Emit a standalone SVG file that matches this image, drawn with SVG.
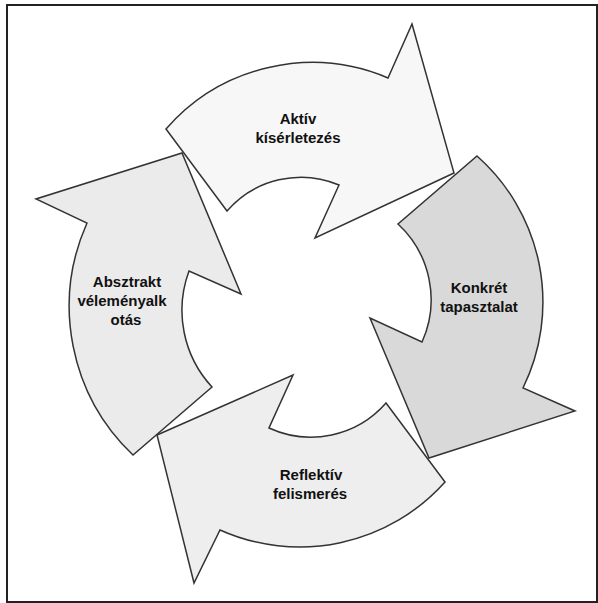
<svg xmlns="http://www.w3.org/2000/svg" width="598" height="603" viewBox="0 0 598 603">
  <style>
    .arrow { stroke: #333333; stroke-width: 1.5; stroke-linejoin: miter; }
    .lbl { font-family: "Liberation Sans", Arial, sans-serif; font-size: 15px; font-weight: bold; fill: #111111; text-anchor: middle; }
  </style>
  <rect x="0" y="0" width="598" height="603" fill="#ffffff"/>
  <rect x="7" y="5" width="590" height="597" fill="none" stroke="#222222" stroke-width="2"/>
  <g id="connectors"></g>
  <g id="node-aktiv">
    <path class="arrow" fill="#f7f7f7" d="M166,129 A194,194 0 0 1 388,78 L412,24 L454,173 L315,238 L339,185 A98,98 0 0 0 227,211 Z"/>
    <text class="lbl" x="298" y="124">Aktív</text>
    <text class="lbl" x="298" y="143">kísérletezés</text>
  </g>
  <g id="node-konkret">
    <path class="arrow" fill="#d9d9d9" d="M477,156 A195,195 0 0 1 523,388 L575,411 L429,458 L370,318 L422,342 A103,103 0 0 0 398,224 Z"/>
    <text class="lbl" x="479" y="293">Konkrét</text>
    <text class="lbl" x="479" y="312">tapasztalat</text>
  </g>
  <g id="node-reflektiv">
    <path class="arrow" fill="#eeeeee" d="M445,482 A195,195 0 0 1 220,530 L194,583 L157,435 L293,375 L269,428 A100,100 0 0 0 386,403 Z"/>
    <text class="lbl" x="311" y="480">Reflektív</text>
    <text class="lbl" x="310" y="499">felismerés</text>
  </g>
  <g id="node-absztrakt">
    <path class="arrow" fill="#ebebeb" d="M133,455 A205,205 0 0 1 87,223 L36,199 L182,153 L241,294 L189,271 A113,113 0 0 0 212,387 Z"/>
    <text class="lbl" x="127" y="287">Absztrakt</text>
    <text class="lbl" x="122" y="306">véleményalk</text>
    <text class="lbl" x="126" y="325">otás</text>
  </g>
</svg>
